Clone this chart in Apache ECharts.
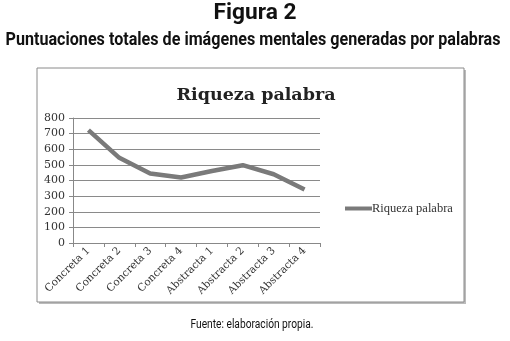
<!DOCTYPE html>
<html><head><meta charset="utf-8">
<script src="https://cdn.jsdelivr.net/npm/echarts@6/dist/echarts.min.js"></script>
<style>html,body{margin:0;padding:0;background:#fff}#c{width:510px;height:341px}</style>
</head><body><div id="c"></div>
<script>
const categories = ['Concreta 1','Concreta 2','Concreta 3','Concreta 4','Abstracta 1','Abstracta 2','Abstracta 3','Abstracta 4'];
const riquezaPalabra = [722, 545, 445, 419, 461, 498, 440, 342];
const yTicks = [0, 100, 200, 300, 400, 500, 600, 700, 800];

const chart = echarts.init(document.getElementById('c'));
const serif = '"DejaVu Serif","Liberation Serif",serif';
const ctx = document.createElement('canvas').getContext('2d');
function fitText(text, font, cx, y, targetW, color) {
  ctx.font = font;
  const w = ctx.measureText(text).width;
  const s = targetW / w;
  return {type: 'text', x: cx, y: y, scaleX: s, originX: 0, originY: 0, silent: true,
    style: {text: text, font: font, fill: color, textAlign: 'center', textVerticalAlign: 'top'}};
}
chart.setOption({
  animation: false,
  backgroundColor: '#fff',
  title: [
    {text: 'Riqueza palabra', left: 251, textAlign: 'center', top: 81, textStyle: {fontFamily: serif, fontWeight: 'bold', fontSize: 17.5, color: '#222'}}
  ],
  graphic: [
    fitText('Figura 2', 'bold 22px Roboto', 255, 2, 83, '#111'),
    fitText('Puntuaciones totales de imágenes mentales generadas por palabras', 'bold 18px Roboto', 253, 31, 495, '#111'),
    fitText('Fuente: elaboración propia.', '12.5px Roboto', 252, 318, 123, '#111'),
    {type: 'rect', shape: {x: 39, y: 70, width: 427, height: 234}, style: {fill: '#bbb'}, z: -2, silent: true},
    {type: 'rect', shape: {x: 37, y: 68, width: 427, height: 234}, style: {fill: '#fff', stroke: '#8a8a8a', lineWidth: 1}, z: -1, silent: true}
  ],
  legend: {
    data: ['Riqueza palabra'], left: 340, top: 197, itemWidth: 27, itemHeight: 4, itemGap: 0,
    icon: 'rect',
    textStyle: {fontFamily: '"Liberation Serif",serif', fontSize: 12.5, color: '#333', padding: [0,0,0,-5]}
  },
  grid: {left: 73, right: 190, top: 118, bottom: 98},
  xAxis: {
    type: 'category', data: categories, boundaryGap: true,
    axisLine: {lineStyle: {color: '#888', width: 1}},
    axisTick: {show: true, length: 4, lineStyle: {color: '#888'}},
    axisLabel: {rotate: 45, fontFamily: serif, fontSize: 10.5, color: '#333', margin: 6}
  },
  yAxis: {
    type: 'value', min: 0, max: 800, interval: 100,
    axisLine: {show: true, lineStyle: {color: '#888'}},
    axisTick: {show: true, length: 4, lineStyle: {color: '#888'}},
    splitLine: {lineStyle: {color: '#8a8a8a', width: 1}},
    axisLabel: {fontFamily: serif, fontSize: 11, color: '#333', margin: 8,
      formatter: v => yTicks.includes(v) ? String(v) : ''}
  },
  series: [{
    name: 'Riqueza palabra', type: 'line', data: riquezaPalabra,
    symbol: 'none', lineStyle: {color: '#7a7a7a', width: 4.5}, itemStyle: {color: '#7a7a7a'}
  }]
});
</script></body></html>
